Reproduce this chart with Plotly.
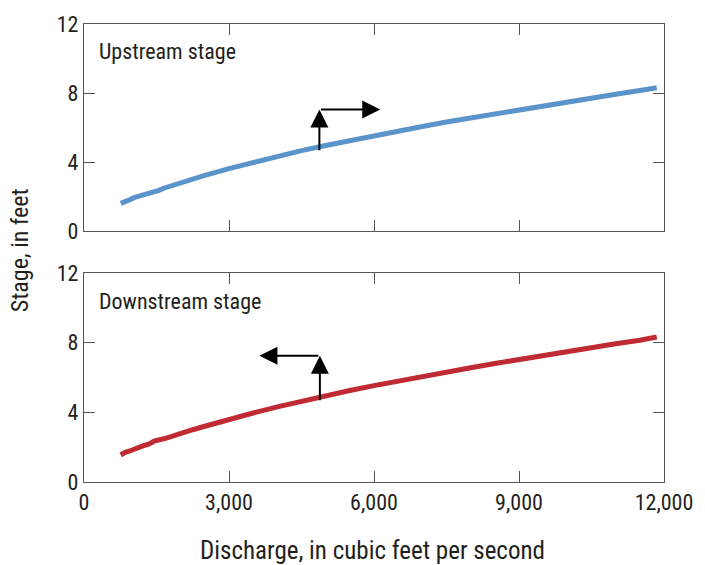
import plotly.graph_objects as go
from plotly.subplots import make_subplots

# Rating-curve data: discharge (cfs) and stage (ft)
up_discharge = [760, 850, 950, 1050, 1150, 1250, 1350, 1450, 1550, 1650, 1800, 2000,
                2250, 2500, 3000, 3500, 4000, 4500, 5000, 5500, 6000, 6500, 7000,
                7500, 8000, 8500, 9000, 9500, 10000, 10500, 11000, 11500, 11850]
up_stage = [1.60, 1.68, 1.82, 1.95, 2.02, 2.10, 2.20, 2.27, 2.36, 2.48, 2.62, 2.82,
            3.02, 3.22, 3.62, 3.98, 4.33, 4.66, 4.96, 5.25, 5.53, 5.80, 6.06,
            6.32, 6.56, 6.80, 7.04, 7.27, 7.49, 7.71, 7.93, 8.14, 8.30]

down_discharge = [760, 850, 950, 1050, 1150, 1250, 1350, 1450, 1550, 1650, 1800, 2000,
                  2250, 2500, 3000, 3500, 4000, 4500, 5000, 5500, 6000, 6500, 7000,
                  7500, 8000, 8500, 9000, 9500, 10000, 10500, 11000, 11500, 11850]
down_stage = [1.55, 1.70, 1.78, 1.92, 2.00, 2.10, 2.18, 2.35, 2.40, 2.48, 2.60, 2.80,
              3.00, 3.20, 3.60, 3.96, 4.31, 4.64, 4.95, 5.25, 5.53, 5.80, 6.06,
              6.32, 6.56, 6.80, 7.04, 7.27, 7.49, 7.71, 7.93, 8.14, 8.32]

x_ticks = [0, 3000, 6000, 9000, 12000]
x_tick_text = ["0", "3,000", "6,000", "9,000", "12,000"]
y_ticks = [0, 4, 8, 12]

panel_labels = ["Upstream stage", "Downstream stage"]

# Shift arrows: vertical from y0 to y1 at q, then horizontal from q to q_end
up_arrow = dict(q=4870, y0=4.6, y1=7.04, q_end=6130)
down_arrow = dict(q=4880, y0=4.6, y1=7.25, q_end=3630)

FONT = "Liberation Sans Narrow, Arial Narrow, Roboto Condensed, sans-serif"
TEXT = "#231f20"
AXIS = "#555555"

fig = make_subplots(rows=2, cols=1, shared_xaxes=False, vertical_spacing=0.0915)

fig.add_trace(go.Scatter(x=up_discharge, y=up_stage, mode="lines",
                         line=dict(color="#5b93cb", width=5), showlegend=False),
              row=1, col=1)
fig.add_trace(go.Scatter(x=down_discharge, y=down_stage, mode="lines",
                         line=dict(color="#bf2a33", width=5), showlegend=False),
              row=2, col=1)

axis_common = dict(showline=True, linecolor=AXIS, linewidth=1.3, mirror="ticks",
                   ticks="inside", ticklen=11, tickwidth=1.2, tickcolor=AXIS,
                   showgrid=False, zeroline=False,
                   tickfont=dict(family=FONT, size=22, color=TEXT))

for r in (1, 2):
    fig.update_xaxes(range=[0, 12000], tickvals=x_ticks, ticktext=x_tick_text,
                     showticklabels=(r == 2), row=r, col=1, **axis_common)
    fig.update_yaxes(range=[0, 12], tickvals=y_ticks, row=r, col=1, **axis_common)

fig.update_layout(
    width=705, height=565,
    margin=dict(l=84, r=37, t=22, b=83),
    paper_bgcolor="white", plot_bgcolor="white",
    font=dict(family=FONT, color=TEXT),
)
fig.update_layout(yaxis=dict(domain=[0.548, 1.0]), yaxis2=dict(domain=[0.0, 0.4565]))

# Panel labels
for i, label in enumerate(panel_labels):
    xr = "x domain" if i == 0 else "x2 domain"
    yr = "y domain" if i == 0 else "y2 domain"
    fig.add_annotation(text=label, xref=xr, yref=yr, x=0.023, y=0.865,
                       xanchor="left", yanchor="middle", showarrow=False,
                       font=dict(family=FONT, size=22, color=TEXT))

# Arrows
def add_shift_arrow(a, xr, yr):
    fig.add_annotation(x=a["q"], y=a["y1"], ax=a["q"], ay=a["y0"],
                       xref=xr, yref=yr, axref=xr, ayref=yr, text="",
                       showarrow=True, arrowhead=2, arrowsize=1.8, arrowwidth=2,
                       arrowcolor="black", standoff=0)
    fig.add_annotation(x=a["q_end"], y=a["y1"], ax=a["q"], ay=a["y1"],
                       xref=xr, yref=yr, axref=xr, ayref=yr, text="",
                       showarrow=True, arrowhead=2, arrowsize=1.8, arrowwidth=2,
                       arrowcolor="black", standoff=0)

add_shift_arrow(up_arrow, "x", "y")
add_shift_arrow(down_arrow, "x2", "y2")

# Axis titles
fig.add_annotation(text="Discharge, in cubic feet per second", xref="paper", yref="paper",
                   x=0.498, y=-0.15, xanchor="center", yanchor="middle", showarrow=False,
                   font=dict(family=FONT, size=25, color=TEXT))
fig.add_annotation(text="Stage, in feet", xref="paper", yref="paper",
                   x=-0.11, y=0.5065, xanchor="center", yanchor="middle", textangle=-90,
                   showarrow=False, font=dict(family=FONT, size=24, color=TEXT))

fig.write_html("out.html")
